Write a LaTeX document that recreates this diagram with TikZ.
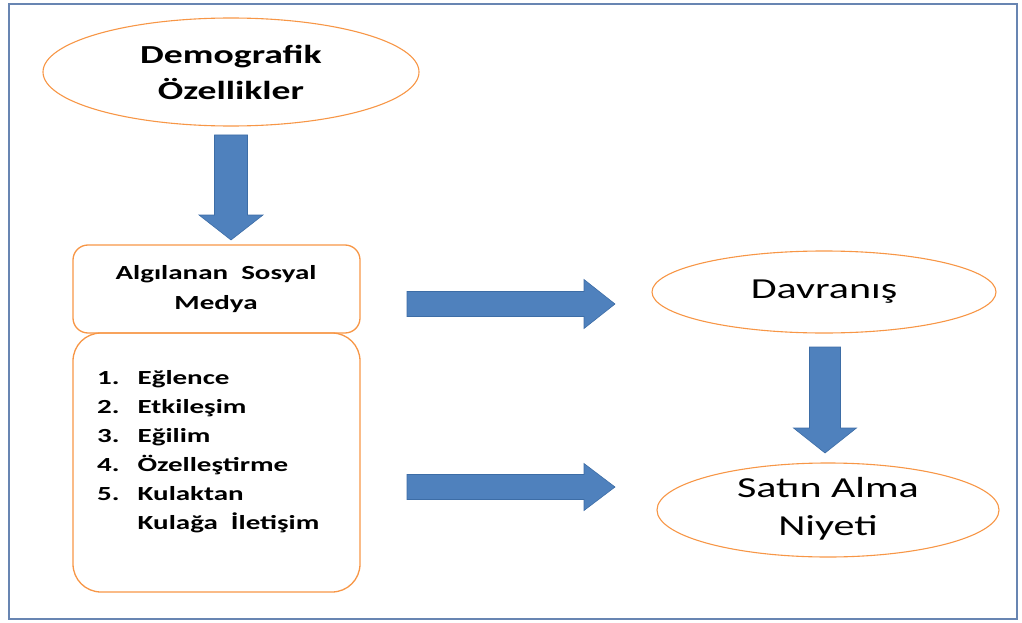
\documentclass[tikz,border=0pt]{standalone}
\usepackage{fontspec}
\setmainfont{Carlito}[FakeStretch=1.45]
\usetikzlibrary{shapes.geometric,calc}
\definecolor{arrblue}{HTML}{4F81BD}
\definecolor{arredge}{HTML}{3D6DA6}
\definecolor{ovl}{HTML}{F79646}
\definecolor{frame}{RGB}{104,133,178}
\tikzset{
  ov/.style={ellipse, draw=ovl, line width=1.1pt, inner sep=0pt, align=center},
  boxs/.style={draw=ovl, line width=1.3pt},
  blockarr/.style={fill=arrblue, draw=arredge, line width=0.6pt, line join=miter},
}
\begin{document}
\begin{tikzpicture}[x=1pt,y=-1pt]
\useasboundingbox (0,0) rectangle (1022,623);
\draw[frame, line width=2.2pt] (9,4) rectangle (1017,619);

% top ellipse
\node[ov, minimum width=376pt, minimum height=108pt] (demo) at (231,72) {};
\node[font=\bfseries\fontsize{26}{36}\selectfont, align=center] (demot) at (231,72) {Demografik\\Özellikler};

% left boxes
\draw[boxs, rounded corners=15pt] (73,245) rectangle (360,333);
\draw[boxs, rounded corners=28pt] (73,333) rectangle (360,592);
\node[font=\bfseries\fontsize{20}{30}\selectfont, align=center] (asm) at (216,289) {Algılanan\ \ Sosyal\\Medya};
\node[font=\bfseries\fontsize{20}{29}\selectfont, anchor=base west, inner sep=0pt] (list) at (97,384)
{\begin{tabular}[t]{@{}l@{\hspace{18pt}}l@{}}
1. & Eğlence\\
2. & Etkileşim\\
3. & Eğilim\\
4. & Özelleştirme\\
5. & Kulaktan\\
   & Kulağa\ \ İletişim
\end{tabular}};

% right ellipses
\node[ov, minimum width=344pt, minimum height=82pt] (davr) at (824,292) {};
\node[font=\fontsize{29}{38}\selectfont] (davrt) at (824,292) {Davranış};
\node[ov, minimum width=342pt, minimum height=94pt] (sat) at (828,510) {};
\node[font=\fontsize{29}{38}\selectfont, align=center] (satt) at (828,509) {Satın Alma\\Niyeti};

% arrow anchor coordinates
\coordinate (a1s) at (231,135); \coordinate (a1t) at (231,240);
\coordinate (a2s) at (407,304); \coordinate (a2t) at (615,304);
\coordinate (a3s) at (407,487); \coordinate (a3t) at (615,487);
\coordinate (a4s) at (825,347); \coordinate (a4t) at (825,453);

% down arrow 1
\draw[blockarr] ($(a1s)+(-16.5,0)$) -- ($(a1s)+(16.5,0)$) -- ($(a1t)+(16.5,-25)$) -- ($(a1t)+(32,-25)$)
  -- (a1t) -- ($(a1t)+(-32,-25)$) -- ($(a1t)+(-16.5,-25)$) -- cycle;
% right arrow 2
\draw[blockarr] ($(a2s)+(0,-12.5)$) -- ($(a2t)+(-31,-12.5)$) -- ($(a2t)+(-31,-24.5)$) -- (a2t)
  -- ($(a2t)+(-31,24.5)$) -- ($(a2t)+(-31,12.5)$) -- ($(a2s)+(0,12.5)$) -- cycle;
% right arrow 3
\draw[blockarr] ($(a3s)+(0,-12.5)$) -- ($(a3t)+(-31,-12.5)$) -- ($(a3t)+(-31,-23.5)$) -- (a3t)
  -- ($(a3t)+(-31,23.5)$) -- ($(a3t)+(-31,12.5)$) -- ($(a3s)+(0,12.5)$) -- cycle;
% down arrow 4
\draw[blockarr] ($(a4s)+(-15.5,0)$) -- ($(a4s)+(15.5,0)$) -- ($(a4t)+(15.5,-25)$) -- ($(a4t)+(31.5,-25)$)
  -- (a4t) -- ($(a4t)+(-31.5,-25)$) -- ($(a4t)+(-15.5,-25)$) -- cycle;
\end{tikzpicture}
\end{document}
